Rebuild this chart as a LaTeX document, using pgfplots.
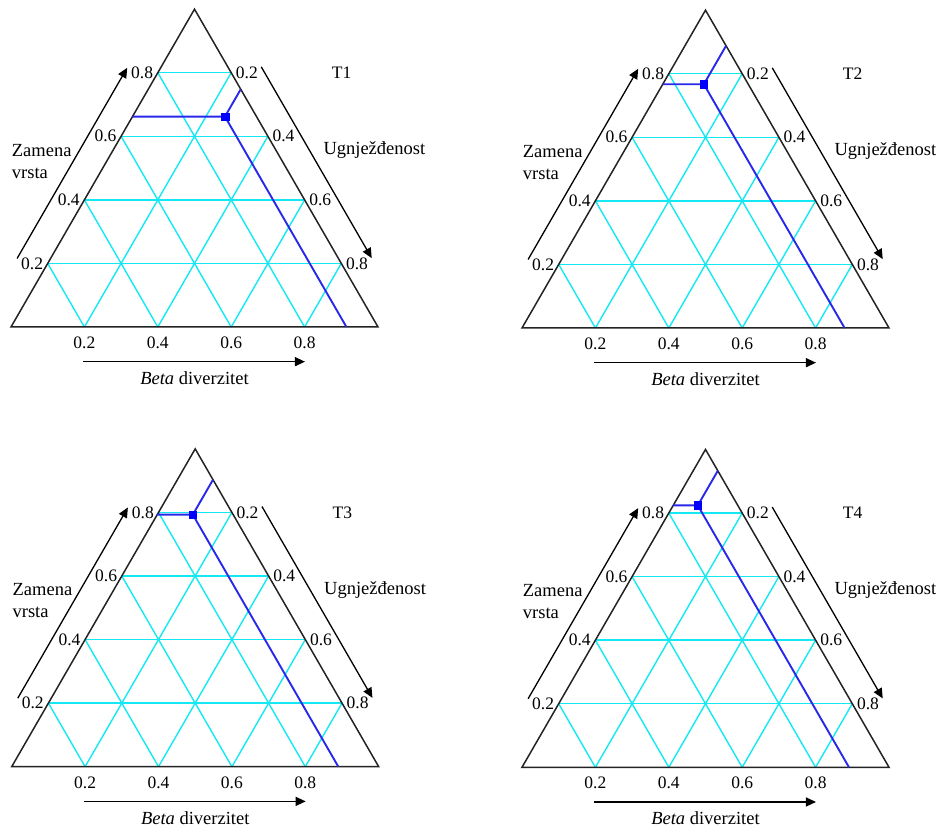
\documentclass[border=0pt]{standalone}
\usepackage{pgfplots}
\pgfplotsset{compat=1.18}
\usetikzlibrary{arrows.meta}
\usepackage{fontspec}
\setmainfont{Liberation Serif}
\definecolor{gridcyan}{RGB}{20,232,242}
\definecolor{datablue}{RGB}{40,40,235}
\definecolor{edgecol}{RGB}{35,35,35}

\newcommand{\ticks}{\fontsize{17.5bp}{19bp}\selectfont}
\newcommand{\names}{\fontsize{18.5bp}{22bp}\selectfont}

% #1,#2: position of the bottom-left corner; #3: panel name;
% #4: horizontal line + line of constant N; #5: line of constant S; #6: the point
\newcommand{\tpanel}[6]{%
\begin{axis}[at={(#1bp,#2bp)}, anchor=south west,
  x=367bp, y=367bp, xmin=0, xmax=1, ymin=0, ymax=0.8660254,
  hide axis, clip=false]
 % grid: constant Z
 \addplot[gridcyan, line width=1.4bp] coordinates {(0.1,0.17321) (0.9,0.17321)};
 \addplot[gridcyan, line width=1.4bp] coordinates {(0.2,0.34641) (0.8,0.34641)};
 \addplot[gridcyan, line width=1.4bp] coordinates {(0.3,0.51962) (0.7,0.51962)};
 \addplot[gridcyan, line width=1.4bp] coordinates {(0.4,0.69282) (0.6,0.69282)};
 % grid: constant N
 \addplot[gridcyan, line width=1.4bp] coordinates {(0.2,0) (0.6,0.69282)};
 \addplot[gridcyan, line width=1.4bp] coordinates {(0.4,0) (0.7,0.51962)};
 \addplot[gridcyan, line width=1.4bp] coordinates {(0.6,0) (0.8,0.34641)};
 \addplot[gridcyan, line width=1.4bp] coordinates {(0.8,0) (0.9,0.17321)};
 % grid: constant S
 \addplot[gridcyan, line width=1.4bp] coordinates {(0.2,0) (0.1,0.17321)};
 \addplot[gridcyan, line width=1.4bp] coordinates {(0.4,0) (0.2,0.34641)};
 \addplot[gridcyan, line width=1.4bp] coordinates {(0.6,0) (0.3,0.51962)};
 \addplot[gridcyan, line width=1.4bp] coordinates {(0.8,0) (0.4,0.69282)};
 % triangle
 \addplot[edgecol, line width=1.5bp, line join=miter] coordinates {(0,0) (1,0) (0.5,0.8660254) (0,0) (0.5,0)};
 % data
 \addplot[datablue, line width=1.9bp] coordinates {#4};
 \addplot[datablue, line width=1.9bp] coordinates {#5};
 \addplot[only marks, mark=square*, mark size=3.8bp, blue] coordinates {#6};
 % tick labels
 \begin{scope}[every node/.style={font=\ticks, inner sep=0pt}]
 \node[anchor=east, xshift=-4.5bp] at (axis cs:0.1,0.17321) {0.2};
 \node[anchor=east, xshift=-4.5bp] at (axis cs:0.2,0.34641) {0.4};
 \node[anchor=east, xshift=-4.5bp] at (axis cs:0.3,0.51962) {0.6};
 \node[anchor=east, xshift=-4.5bp] at (axis cs:0.4,0.69282) {0.8};
 \node[anchor=west, xshift=4.5bp] at (axis cs:0.9,0.17321) {0.8};
 \node[anchor=west, xshift=4.5bp] at (axis cs:0.8,0.34641) {0.6};
 \node[anchor=west, xshift=4.5bp] at (axis cs:0.7,0.51962) {0.4};
 \node[anchor=west, xshift=4.5bp] at (axis cs:0.6,0.69282) {0.2};
 \node[anchor=north, yshift=-9.5bp] at (axis cs:0.2,0) {0.2};
 \node[anchor=north, yshift=-9.5bp] at (axis cs:0.4,0) {0.4};
 \node[anchor=north, yshift=-9.5bp] at (axis cs:0.6,0) {0.6};
 \node[anchor=north, yshift=-9.5bp] at (axis cs:0.8,0) {0.8};
 \node[anchor=center] at (axis cs:0.901,0.693) {#3};
 \end{scope}
 \begin{scope}[every node/.style={font=\names, inner sep=0pt}]
 \node[anchor=west, align=left] at (axis cs:0.002,0.452) {Zamena\\vrsta};
 \node[anchor=west] at (axis cs:0.851,0.482) {Ugnježđenost};
 \node[anchor=center] at (axis cs:0.5,-0.139) {\textit{Beta} diverzitet};
 \end{scope}
 % axis arrows
 \begin{scope}[black, line width=1.3bp, -{Triangle[length=10bp,width=9bp]}]
 \draw (axis cs:0.197,-0.0945) -- (axis cs:0.801,-0.0945);
 \draw (axis cs:0.0166,0.1867) -- (axis cs:0.3166,0.7063);
 \draw (axis cs:0.6819,0.7089) -- (axis cs:0.9829,0.1876);
 \end{scope}
\end{axis}}

\begin{document}
\begin{tikzpicture}
\useasboundingbox (0bp,0bp) rectangle (948bp,829bp);
% T1: Z = 0.662, N = 0.252
\tpanel{11}{502}{T1}
 {(0.331,0.57331) (0.583,0.57331) (0.626,0.64779)}
 {(0.583,0.57331) (0.914,0)}
 {(0.583,0.57331)}
% T2: Z = 0.767, N = 0.112
\tpanel{522}{501}{T2}
 {(0.3835,0.66424) (0.4955,0.66424) (0.556,0.76903)}
 {(0.4955,0.66424) (0.879,0)}
 {(0.4955,0.66424)}
% T3: Z = 0.793, N = 0.097
\tpanel{11.7}{62.3}{T3}
 {(0.3965,0.68676) (0.4935,0.68676) (0.5485,0.78202)}
 {(0.4935,0.68676) (0.890,0)}
 {(0.4935,0.68676)}
% T4: Z = 0.824, N = 0.067
\tpanel{522}{61.7}{T4}
 {(0.412,0.71361) (0.479,0.71361) (0.5335,0.80800)}
 {(0.479,0.71361) (0.891,0)}
 {(0.479,0.71361)}
\end{tikzpicture}
\end{document}
